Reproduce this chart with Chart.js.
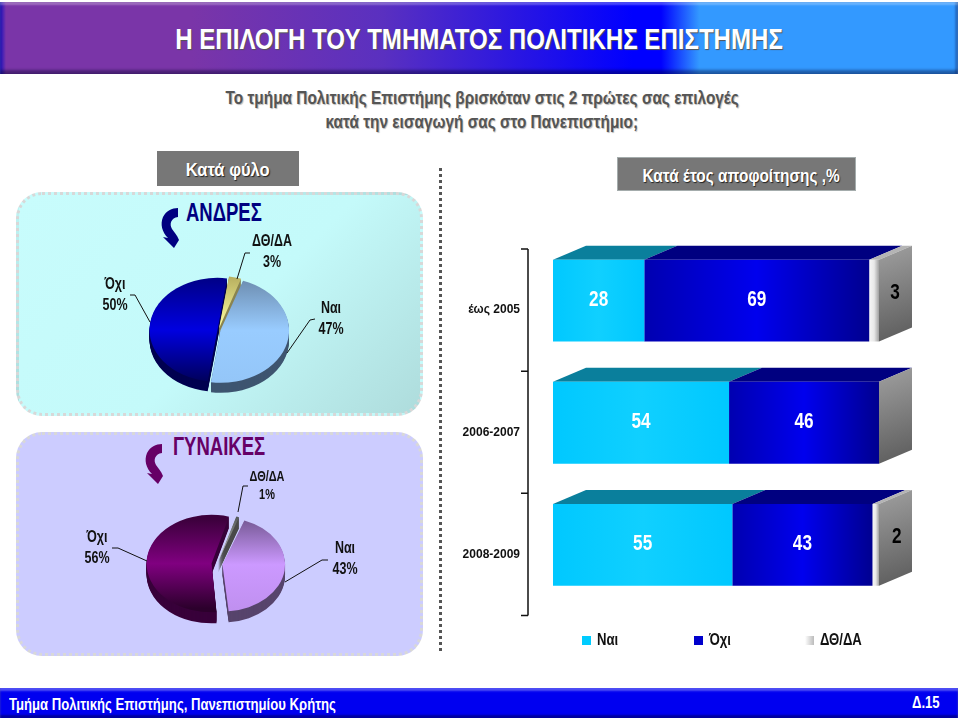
<!DOCTYPE html>
<html>
<head>
<meta charset="utf-8">
<script src="https://cdn.jsdelivr.net/npm/chart.js@4"></script>
<style>
  html, body { margin: 0; padding: 0; background: #fff; }
  body { width: 960px; height: 720px; position: relative; overflow: hidden;
         font-family: "Liberation Sans", sans-serif; font-weight: bold; }
  .abs { position: absolute; }
  .narrow { display: inline-block; white-space: nowrap; }
  #header { left: 0; top: 2px; width: 958px; height: 72px;
    background: linear-gradient(90deg, #1a10c0 0, #7a35a8 6px, #7a35a8 20%, #5a30c0 40%, #0000ff 66%, #0000ff 69%, #3399ff 73%, #3399ff 100%);
    box-shadow: inset 0 3px 2px rgba(255,255,255,.28), inset 0 -4px 3px rgba(0,0,40,.4), inset -3px 0 2px rgba(0,0,60,.25); }
  #title { left: 0; top: 22px; width: 958px; text-align: center; color: #fff; font-size: 29px; line-height: 34px;
    text-shadow: 1px 1px 1px #555; }
  #title .narrow { transform: scaleX(.83); }
  .sub { left: 0; width: 964px; text-align: center; color: #555; font-size: 18px; line-height: 20px; text-shadow: 1px 1px 1px #bbb; }
  .sub .narrow { transform: scaleX(.855); }
  .box { background: #777; color: #fff; text-align: center; text-shadow: 1px 1px 1px #222; box-sizing: border-box; }
  .panel { left: 16px; width: 407px; height: 224px; border-radius: 26px; box-sizing: border-box; border: 3px dotted #d8d8d8; }
  #sep { left: 439px; top: 168px; width: 3px; height: 486px;
    background: repeating-linear-gradient(180deg, #555 0, #555 3px, transparent 3px, transparent 6px); }
  #footer { left: 0; top: 688px; width: 958px; height: 30px; background: #0000f0; color: #fff;
    box-shadow: inset 0 3px 2px rgba(255,255,255,.3), inset 0 -3px 2px rgba(0,0,60,.45); }
  #legend { left: 582px; top: 631px; display: flex; font-size: 16px; color: #111; }
  #legend .item { width: 111.5px; display: flex; align-items: center; height: 18px; white-space: nowrap; }
  #legend .sw { width: 9px; height: 9px; margin-right: 6px; }
  #legend span { display: inline-block; transform: scaleX(.82); transform-origin: left center; }
  .left { transform-origin: left center; }
</style>
</head>
<body>
<div class="abs" id="header"></div>
<div class="abs" id="title"><span class="narrow">Η ΕΠΙΛΟΓΗ ΤΟΥ ΤΜΗΜΑΤΟΣ ΠΟΛΙΤΙΚΗΣ ΕΠΙΣΤΗΜΗΣ</span></div>
<div class="abs sub" style="top:88px"><span class="narrow">Το τμήμα Πολιτικής Επιστήμης βρισκόταν στις 2 πρώτες σας επιλογές</span></div>
<div class="abs sub" style="top:112px"><span class="narrow">κατά την εισαγωγή σας στο Πανεπιστήμιο;</span></div>

<div class="abs box" style="left:157px;top:151px;width:142px;height:35px;font-size:18px;line-height:39px"><span class="narrow" style="transform:scaleX(.92)">Κατά φύλο</span></div>
<div class="abs box" style="left:617px;top:157px;width:239px;height:34px;padding-left:8px;font-size:18px;line-height:36px;border:1px solid #a4acac"><span class="narrow" style="transform:scaleX(.857)">Κατά έτος αποφοίτησης ,%</span></div>

<div class="abs panel" style="top:192px;background:linear-gradient(135deg,#c8fcfc 0,#c4fafa 55%,#aedcdc 100%)"></div>
<div class="abs panel" style="top:432px;background:#ccccff"></div>
<div class="abs" id="sep"></div>

<svg class="abs" style="left:0;top:0" width="960" height="720">
  <path fill="#000080" d="M178 208 L178 217 C171 218 169 224 172 229 C174 232 177 235 179 240 L174 248 L163 237 L168 238 C162 232 160 224 163 217 C166 211 172 208 178 208 Z"/>
  <path fill="#660066" transform="translate(-16 236)" d="M178 208 L178 217 C171 218 169 224 172 229 C174 232 177 235 179 240 L174 248 L163 237 L168 238 C162 232 160 224 163 217 C166 211 172 208 178 208 Z"/>
</svg>
<div class="abs narrow left" style="left:186px;top:198px;color:#000080;font-size:25px;line-height:28px;transform:scaleX(.74)">ΑΝΔΡΕΣ</div>
<div class="abs narrow left" style="left:173px;top:432px;color:#660066;font-size:25px;line-height:28px;transform:scaleX(.74)">ΓΥΝΑΙΚΕΣ</div>

<canvas class="abs" id="menPie" style="left:16px;top:192px" width="407" height="224"></canvas>
<canvas class="abs" id="womenPie" style="left:16px;top:432px" width="407" height="224"></canvas>
<canvas class="abs" id="yearBars" style="left:445px;top:200px" width="480" height="449"></canvas>
<div class="abs" id="legend"></div>

<div class="abs" id="footer"></div>
<div class="abs narrow left" style="left:9px;top:695px;color:#fff;font-size:16px;line-height:20px;transform:scaleX(.82)">Τμήμα Πολιτικής Επιστήμης, Πανεπιστημίου Κρήτης</div>
<div class="abs narrow left" style="left:912px;top:693px;color:#fff;font-size:16px;line-height:20px;transform:scaleX(.82)">Δ.15</div>

<script>
const FONT = '"Liberation Sans", sans-serif';
const NARROW = 0.78;

// data
const answers = ['Ναι', 'Όχι', 'ΔΘ/ΔΑ'];
const menValues = [47, 50, 3];
const womenValues = [43, 56, 1];
const years = ['έως 2005', '2006-2007', '2008-2009'];
const yesByYear = [28, 54, 55];
const noByYear = [69, 46, 43];
const naByYear = [3, 0, 2];

// label anchors and leader lines, page pixels, same order as answers
const menNotes = [
  { x: 331, y: [309, 330], size: 16, line: [[315, 319], [310, 320], [287, 353]] },
  { x: 115, y: [285, 306], size: 16, line: [[130, 295], [135, 295], [150, 322]] },
  { x: 272, y: [242, 263], size: 16, line: [[250, 253], [245, 253], [237, 279]] }
];
const womenNotes = [
  { x: 345, y: [549, 570], size: 16, line: [[328, 560], [322, 560], [285, 582]] },
  { x: 97, y: [538, 559], size: 16, line: [[112, 548], [118, 548], [147, 561]] },
  { x: 267, y: [477, 495], size: 14, line: [[248, 486], [243, 486], [238, 512]] }
];

function narrowText(ctx, text, x, y) {
  ctx.save();
  ctx.translate(x, y);
  ctx.scale(NARROW, 1);
  ctx.fillText(text, 0, 0);
  ctx.restore();
}

////////////////////////////////// PIE CHARTS //////////////////////////////////
// squashes the arcs to an ellipse, gives them a side wall, then writes the labels
const pie3d = {
  id: 'pie3d',
  beforeDatasetsDraw(chart, args, opts) {
    const ctx = chart.ctx;
    const arcs = chart.getDatasetMeta(0).data;
    const cy = arcs[0].y;
    ctx.save();
    ctx.translate(0, cy);
    ctx.scale(1, opts.squash);
    ctx.translate(0, -cy);
    for (let d = opts.depth; d > 0; d--) {
      arcs.forEach((arc, i) => {
        const wall = Object.create(arc);
        wall.options = Object.assign({}, arc.options, { backgroundColor: opts.sides[i] });
        ctx.save();
        ctx.translate(0, d / opts.squash);
        wall.draw(ctx);
        ctx.restore();
      });
    }
  },
  afterDatasetsDraw(chart) {
    chart.ctx.restore();
  },
  afterDraw(chart, args, opts) {
    const ctx = chart.ctx;
    const box = chart.canvas.getBoundingClientRect();
    ctx.save();
    ctx.translate(-box.left, -box.top);
    ctx.strokeStyle = '#111';
    ctx.lineWidth = 1;
    ctx.fillStyle = '#111';
    ctx.textAlign = 'center';
    ctx.textBaseline = 'middle';
    opts.notes.forEach((n, i) => {
      ctx.beginPath();
      n.line.forEach((p, k) => k ? ctx.lineTo(p[0], p[1]) : ctx.moveTo(p[0], p[1]));
      ctx.stroke();
      ctx.font = 'bold ' + n.size + 'px ' + FONT;
      narrowText(ctx, chart.data.labels[i], n.x, n.y[0]);
      narrowText(ctx, chart.data.datasets[0].data[i] + '%', n.x, n.y[1]);
    });
    ctx.restore();
  }
};

function faceFill(faces, radius) {
  return function (c) {
    const stops = faces[c.dataIndex];
    const area = c.chart.chartArea;
    if (!area) return stops[1];
    const mid = (area.top + area.bottom) / 2;
    const g = c.chart.ctx.createLinearGradient(0, mid - radius, 0, mid + radius);
    g.addColorStop(0, stops[0]);
    g.addColorStop(0.5, stops[1]);
    g.addColorStop(1, stops[2]);
    return g;
  };
}

function pieChart(id, values, cfg) {
  return new Chart(document.getElementById(id), {
    type: 'pie',
    data: {
      labels: answers,
      datasets: [{
        data: values,
        clip: false,
        borderWidth: 0,
        radius: cfg.radius,
        offset: cfg.offset,
        backgroundColor: faceFill(cfg.faces, cfg.radius)
      }]
    },
    options: {
      responsive: false,
      animation: false,
      rotation: cfg.rotation,
      layout: { padding: cfg.padding },
      plugins: {
        legend: { display: false },
        tooltip: { enabled: false },
        pie3d: { squash: cfg.squash, depth: cfg.depth, sides: cfg.sides, notes: cfg.notes }
      }
    },
    plugins: [pie3d]
  });
}

const menChart = pieChart('menPie', menValues, {
  radius: 67, rotation: 19, squash: 0.765, depth: 10,
  padding: { top: 52, right: 2 },
  offset: [8, 4, 8],
  faces: [['#6d8db0', '#99ccff', '#94c6f8'], ['#000088', '#0000e0', '#00005c'], ['#b8b060', '#ffffa0', '#ffffa0']],
  sides: ['#3e5570', '#000050', '#8a8450'],
  notes: menNotes
});

const womenChart = pieChart('womenPie', womenValues, {
  radius: 59.5, rotation: 20, squash: 0.75, depth: 11,
  padding: { top: 40, right: 5 },
  offset: [22, 22, 14],
  faces: [['#775a96', '#cc99ff', '#c090f0'], ['#3c003c', '#800080', '#2c002c'], ['#555a5a', '#c4c4c4', '#8a8a8a']],
  sides: ['#57446c', '#38003a', '#4a4a4a'],
  notes: womenNotes
});

////////////////////////////////// BAR CHART //////////////////////////////////
const DX = 33, DY = 14, LABEL_SHIFT = 9.5;

function spanFill(stops, startOf, endOf) {
  return function (c) {
    const x = c.chart.scales.x;
    if (!x || !c.chart.chartArea) return stops[1];
    const g = c.chart.ctx.createLinearGradient(x.getPixelForValue(startOf(c.dataIndex)), 0, x.getPixelForValue(endOf(c.dataIndex)), 0);
    stops.forEach((s, k) => g.addColorStop(k / (stops.length - 1), s));
    return g;
  };
}

const barTops = ['#0a7f9c', '#000080', '#b4b4b4'];

// top and side faces behind the bars, bracket axis, data labels on top
const bar3d = {
  id: 'bar3d',
  beforeDatasetsDraw(chart) {
    const ctx = chart.ctx;
    chart.data.datasets.forEach((ds, k) => {
      chart.getDatasetMeta(k).data.forEach((bar, i) => {
        if (!ds.data[i]) return;
        const top = bar.y - bar.height / 2;
        ctx.fillStyle = barTops[k];
        ctx.beginPath();
        ctx.moveTo(bar.base, top);
        ctx.lineTo(bar.x, top);
        ctx.lineTo(bar.x + DX, top - DY);
        ctx.lineTo(bar.base + DX, top - DY);
        ctx.closePath();
        ctx.fill();
      });
    });
    const xr = chart.scales.x.right;
    chart.getDatasetMeta(0).data.forEach(bar => {
      const top = bar.y - bar.height / 2, bot = bar.y + bar.height / 2;
      const g = ctx.createLinearGradient(xr, top - DY, xr + DX, bot);
      g.addColorStop(0, '#a0a0a0');
      g.addColorStop(1, '#5a5a5a');
      ctx.fillStyle = g;
      ctx.beginPath();
      ctx.moveTo(xr, top);
      ctx.lineTo(xr + DX, top - DY);
      ctx.lineTo(xr + DX, bot - DY);
      ctx.lineTo(xr, bot);
      ctx.closePath();
      ctx.fill();
    });
  },
  afterDraw(chart) {
    const ctx = chart.ctx;
    const y = chart.scales.y;
    const axisX = chart.chartArea.left - 25;
    const step = (y.bottom - y.top) / years.length;
    ctx.save();
    ctx.strokeStyle = '#111';
    ctx.lineWidth = 1.5;
    ctx.beginPath();
    ctx.moveTo(axisX, y.top + LABEL_SHIFT);
    ctx.lineTo(axisX, y.bottom + LABEL_SHIFT);
    for (let i = 0; i <= years.length; i++) {
      ctx.moveTo(axisX - 7, y.top + LABEL_SHIFT + i * step);
      ctx.lineTo(axisX, y.top + LABEL_SHIFT + i * step);
    }
    ctx.stroke();

    ctx.font = 'bold 22px ' + FONT;
    ctx.textAlign = 'center';
    ctx.textBaseline = 'middle';
    chart.data.datasets.forEach((ds, k) => {
      chart.getDatasetMeta(k).data.forEach((bar, i) => {
        if (!ds.data[i]) return;
        if (k === 2) {
          ctx.fillStyle = '#000';
          narrowText(ctx, ds.data[i], (bar.base + bar.x) / 2 + 21, bar.y - 8);
        } else {
          ctx.fillStyle = '#fff';
          narrowText(ctx, ds.data[i], (bar.base + bar.x) / 2, bar.y - 1);
        }
      });
    });
    ctx.restore();
  }
};

const barChart = new Chart(document.getElementById('yearBars'), {
  type: 'bar',
  data: {
    labels: years,
    datasets: [
      { label: answers[0], data: yesByYear, swatch: '#00ccff',
        backgroundColor: spanFill(['#00c8ff', '#10d0ff', '#00c8ff'], () => 0, i => yesByYear[i]) },
      { label: answers[1], data: noByYear, swatch: '#0000cc',
        backgroundColor: spanFill(['#0000b0', '#0000ee', '#000090'], i => yesByYear[i], i => yesByYear[i] + noByYear[i]) },
      { label: answers[2], data: naByYear, swatch: 'linear-gradient(90deg,#fff,#bbb)',
        backgroundColor: spanFill(['#f6f6f6', '#e8e8e8', '#a0a0a0'], i => yesByYear[i] + noByYear[i], () => 100) }
    ]
  },
  options: {
    indexAxis: 'y',
    responsive: false,
    animation: false,
    layout: { padding: { top: 39.5, bottom: 43, right: 46 } },
    datasets: { bar: { categoryPercentage: 1, barPercentage: 0.67 } },
    scales: {
      x: { stacked: true, min: 0, max: 100, display: false },
      y: {
        stacked: true,
        grid: { display: false },
        border: { display: false },
        afterFit: s => { s.width = 108; },
        ticks: { padding: 25, labelOffset: LABEL_SHIFT, color: '#111', font: { family: FONT, size: 12, weight: 'bold' } }
      }
    },
    plugins: { legend: { display: false }, tooltip: { enabled: false } }
  },
  plugins: [bar3d]
});

// legend as html so the items can sit wide apart
barChart.data.datasets.forEach(ds => {
  const item = document.createElement('div');
  item.className = 'item';
  const sw = document.createElement('div');
  sw.className = 'sw';
  sw.style.background = ds.swatch;
  const txt = document.createElement('span');
  txt.textContent = ds.label;
  item.appendChild(sw);
  item.appendChild(txt);
  document.getElementById('legend').appendChild(item);
});
</script>
</body>
</html>
